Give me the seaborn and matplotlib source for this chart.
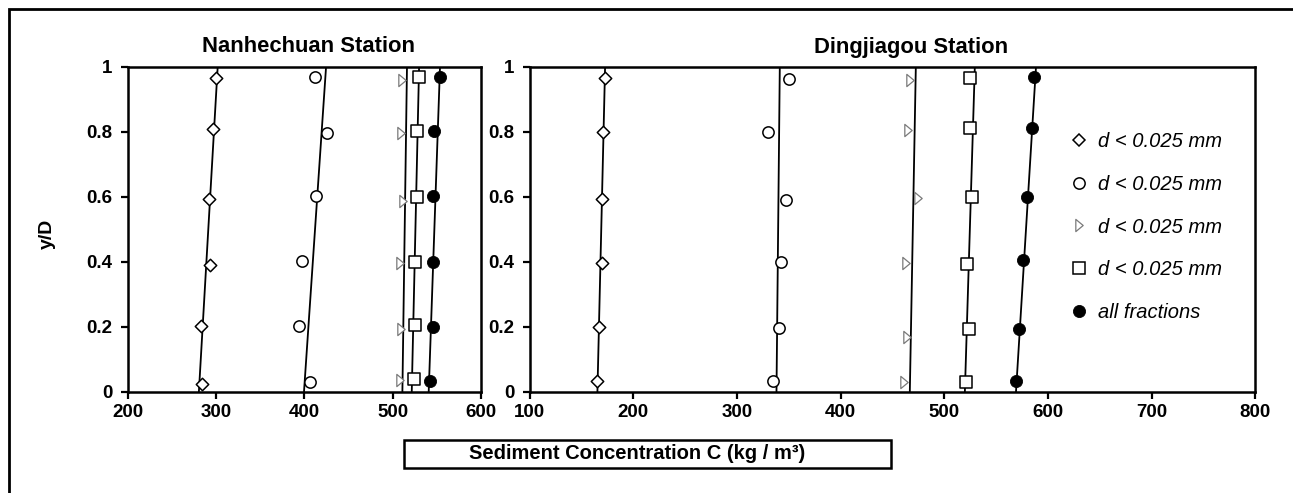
import matplotlib
matplotlib.use("Agg")
import matplotlib.pyplot as plt
import seaborn as sns
from matplotlib.lines import Line2D
from matplotlib.markers import MarkerStyle
from matplotlib.patches import Rectangle
from matplotlib.path import Path

# Nanhechuan station: concentration (kg/m3) and relative depth y/D per fraction
nan_diamond_c = [300.0, 296.2, 291.7, 293.2, 282.7, 284.2]
nan_diamond_y = [0.964, 0.809, 0.594, 0.391, 0.201, 0.025]
nan_circle_c = [411.5, 425.4, 413.3, 397.5, 393.7, 406.1]
nan_circle_y = [0.969, 0.796, 0.602, 0.401, 0.201, 0.031]
nan_tri_c = [510.3, 508.9, 511.5, 508.5, 509.2, 508.5]
nan_tri_y = [0.959, 0.796, 0.587, 0.396, 0.194, 0.036]
nan_square_c = [529.3, 527.9, 527.1, 525.6, 524.8, 524.1]
nan_square_y = [0.969, 0.803, 0.600, 0.398, 0.206, 0.039]
nan_all_c = [553.6, 546.4, 545.6, 545.3, 545.3, 542.3]
nan_all_y = [0.969, 0.803, 0.602, 0.398, 0.199, 0.033]
# fitted profile lines: concentration at y/D = 0 and y/D = 1
nan_fit_bottom = [280.6, 399.6, 511.0, 521.6, 540.8]
nan_fit_top = [301.9, 424.6, 516.2, 529.9, 553.6]

# Dingjiagou station
ding_diamond_c = [172.9, 171.3, 169.7, 169.7, 167.1, 165.5]
ding_diamond_y = [0.964, 0.800, 0.592, 0.395, 0.198, 0.033]
ding_circle_c = [350.4, 329.8, 347.8, 343.0, 340.4, 334.6]
ding_circle_y = [0.961, 0.800, 0.590, 0.398, 0.195, 0.033]
ding_tri_c = [466.8, 465.2, 474.8, 463.0, 463.6, 461.0]
ding_tri_y = [0.959, 0.805, 0.595, 0.395, 0.169, 0.031]
ding_square_c = [524.6, 524.6, 526.9, 522.4, 523.7, 520.8]
ding_square_y = [0.964, 0.812, 0.600, 0.393, 0.192, 0.031]
ding_all_c = [586.8, 584.3, 579.5, 575.6, 572.1, 569.2]
ding_all_y = [0.969, 0.810, 0.600, 0.405, 0.192, 0.034]
ding_fit_bottom = [165.5, 338.2, 466.8, 519.9, 569.2]
ding_fit_top = [172.9, 341.4, 472.6, 529.5, 588.5]

legend_labels = ["d < 0.025 mm", "d < 0.025 mm", "d < 0.025 mm", "d < 0.025 mm", "all fractions"]
y_ticks = [0, 0.2, 0.4, 0.6, 0.8, 1]
nan_x_ticks = [200, 300, 400, 500, 600]
ding_x_ticks = [100, 200, 300, 400, 500, 600, 700, 800]

W, H = 1293, 493

sns.set_style("ticks")
plt.rcParams["font.family"] = ["Liberation Sans", "DejaVu Sans"]
plt.rcParams["font.weight"] = "bold"
for key in ["text.color", "axes.labelcolor", "xtick.color", "ytick.color", "axes.edgecolor"]:
    plt.rcParams[key] = "black"

tri_marker = MarkerStyle(Path([(-0.3, -0.5), (0.3, 0.0), (-0.3, 0.5), (-0.3, -0.5)],
                              [Path.MOVETO, Path.LINETO, Path.LINETO, Path.CLOSEPOLY]))

# marker, size (pt^2), face, edge, edge width
styles = [
    ("D", 40, "white", "black", 1.1),
    ("o", 66, "white", "black", 1.1),
    (tri_marker, 78, "white", "#7a7a7a", 0.9),
    ("s", 78, "white", "black", 1.1),
    ("o", 76, "black", "black", 0.6),
]


def px(x, y):
    return x / W, 1 - y / H


def draw_panel(ax, series, fit_bottom, fit_top, xlim, xticks):
    for (c, yd), (b, t), (m, s, fc, ec, lw) in zip(series, zip(fit_bottom, fit_top), styles):
        sns.lineplot(x=[b, t], y=[0, 1], orient="y", sort=False, estimator=None,
                     color="black", linewidth=1.3, ax=ax, zorder=2)
        sns.scatterplot(x=c, y=yd, marker=m, s=s, color=ec, facecolor=fc, edgecolor=ec,
                        linewidth=lw, ax=ax, zorder=3, clip_on=False)
    ax.set_xlim(*xlim)
    ax.set_ylim(0, 1)
    ax.set_xticks(xticks)
    ax.set_yticks(y_ticks)
    ax.set_yticklabels([f"{v:g}" for v in y_ticks])
    ax.set_xlabel("")
    ax.set_ylabel("")
    for sp in ax.spines.values():
        sp.set_linewidth(1.8)
        sp.set_color("black")
    ax.tick_params(axis="both", direction="out", length=5, width=1.6, labelsize=13.5, colors="black")
    ax.tick_params(axis="y", pad=6)
    ax.tick_params(axis="x", pad=4)
    for lab in ax.get_xticklabels() + ax.get_yticklabels():
        lab.set_fontweight("bold")


fig = plt.figure(figsize=(W / 100, H / 100), dpi=100)
ax_l = fig.add_axes([127.7 / W, 1 - 391.7 / H, 353.3 / W, 325 / H])
ax_r = fig.add_axes([529.5 / W, 1 - 391.7 / H, 725.8 / W, 325 / H])

nan_series = [(nan_diamond_c, nan_diamond_y), (nan_circle_c, nan_circle_y), (nan_tri_c, nan_tri_y),
              (nan_square_c, nan_square_y), (nan_all_c, nan_all_y)]
ding_series = [(ding_diamond_c, ding_diamond_y), (ding_circle_c, ding_circle_y), (ding_tri_c, ding_tri_y),
               (ding_square_c, ding_square_y), (ding_all_c, ding_all_y)]

draw_panel(ax_l, nan_series, nan_fit_bottom, nan_fit_top, (200, 600), nan_x_ticks)
draw_panel(ax_r, ding_series, ding_fit_bottom, ding_fit_top, (100, 800), ding_x_ticks)

handles = [Line2D([], [], linestyle="none", marker=m, markersize=s ** 0.5, markerfacecolor=fc,
                  markeredgecolor=ec, markeredgewidth=lw) for m, s, fc, ec, lw in styles]
fig.legend(handles, legend_labels, loc="upper left", bbox_to_anchor=px(1069, 132),
           frameon=False, borderpad=0, borderaxespad=0, handlelength=1.0, handletextpad=0.45,
           labelspacing=1.18, prop={"family": "Liberation Sans", "style": "italic",
                                    "weight": "normal", "size": 14.5})

fig.text(*px(308, 46), "Nanhechuan Station", ha="center", va="center", fontsize=15.8, fontweight="bold")
fig.text(*px(911, 47), "Dingjiagou Station", ha="center", va="center", fontsize=15.8, fontweight="bold")
fig.text(*px(47, 234), "y/D", ha="center", va="center", rotation=90, fontsize=14, fontweight="bold")

# boxed x-axis caption and outer frame
fig.patches.append(Rectangle(px(403.5, 467.5), 487 / W, 28 / H, transform=fig.transFigure,
                             fill=False, edgecolor="black", linewidth=1.8))
fig.text(*px(637, 453.5), "Sediment Concentration C (kg / m³)", ha="center", va="center",
         fontsize=14.5, fontweight="bold")
fig.patches.append(Rectangle(px(9, 520), 1400 / W, 511 / H, transform=fig.transFigure,
                             fill=False, edgecolor="black", linewidth=2))

fig.savefig("out.png", dpi=100, facecolor="white")
